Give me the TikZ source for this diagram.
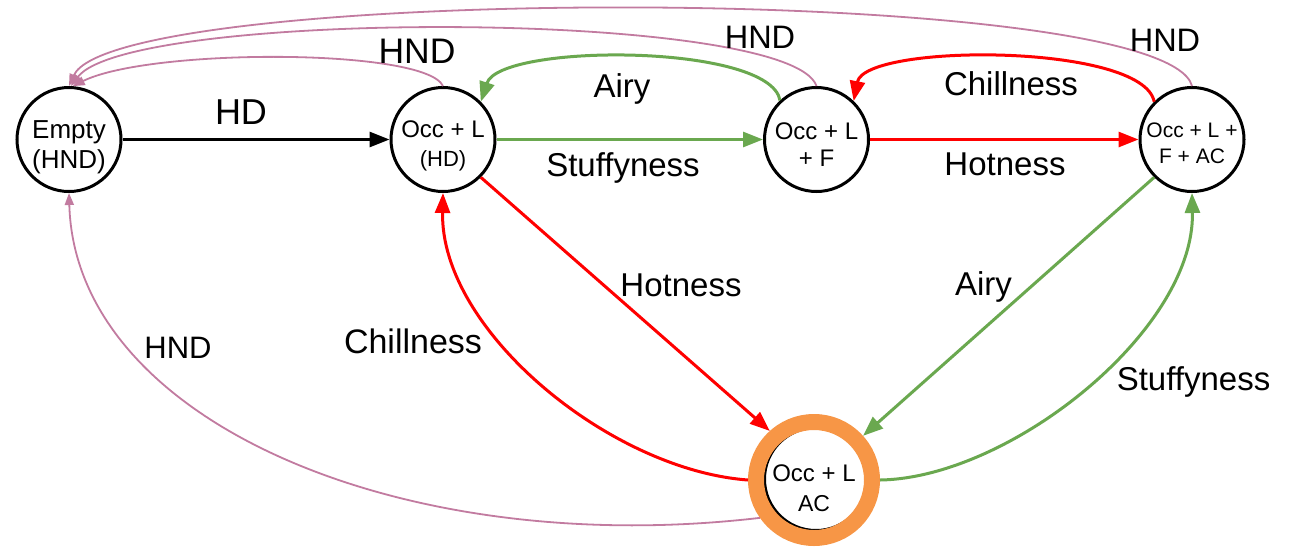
\documentclass[tikz,border=0pt]{standalone}
\usepackage{fontspec}
\setmainfont{Liberation Sans}
\usetikzlibrary{arrows.meta}

\definecolor{grn}{HTML}{6AA84F}
\definecolor{hot}{HTML}{FF0000}
\definecolor{hndc}{HTML}{C27BA0}
\definecolor{ring}{HTML}{F79646}

% two centred lines; the last baseline sits #1 below the node centre
\newcommand{\nodelines}[3]{\smash{\raisebox{-#1}{\begin{tabular}[b]{@{}c@{}}#2\\#3\end{tabular}}}}

\begin{document}
\begin{tikzpicture}[x=1pt,y=-1pt,
  state/.style={circle, draw=black, line width=3pt, fill=white,
                minimum size=104pt, inner sep=0pt},
  flow/.style={line width=3pt, -{Triangle[length=20pt,width=15pt]}},
  hnd/.style={draw=hndc, line width=1.8pt, -{Triangle[length=12pt,width=9pt]}},
  lbl/.style={anchor=base, inner sep=0pt, font=\fontsize{33}{40}\selectfont}]

\useasboundingbox[fill=white] (0,0) rectangle (1299,547);

% states
\node[state, font=\fontsize{26}{30}\selectfont] (empty) at (69,139.5)
  {\nodelines{28.8pt}{Empty}{(HND)}};
\node[state, font=\fontsize{24}{29}\selectfont] (hd) at (443,139.5)
  {\nodelines{27.2pt}{Occ + L}{{\fontsize{22}{29}\selectfont (HD)}}};
\node[state, font=\fontsize{24}{27.4}\selectfont] (f) at (816.5,139.5)
  {\nodelines{27.2pt}{Occ + L}{+ F}};
\node[state, font=\fontsize{21}{25.6}\selectfont] (ac4) at (1192,139.5)
  {\nodelines{23.8pt}{Occ + L +}{F + AC}};

% highlighted state: black circle under a thick orange ring
\node[state, minimum size=103pt] (acin) at (816,479) {};
\node[circle, draw=ring, line width=16pt, minimum size=116pt, inner sep=0pt,
      font=\fontsize{24}{30}\selectfont] (ac) at (814,480)
  {\nodelines{31pt}{Occ + L}{{\fontsize{23}{30}\selectfont AC}}};

% straight transitions
\draw[flow, black] (empty) -- (hd);
\draw[flow, grn] (hd) -- (f);
\draw[flow, hot] (f) -- (ac4);
\draw[flow, hot] (hd.315) -- (ac.132);
\draw[flow, grn] (ac4.225) -- (ac.42);

% curved transitions
\draw[flow, grn] (f.133) .. controls (770,43) and (500,43) .. (hd.45);
\draw[flow, hot] (ac4.135) .. controls (1143,43) and (865,43) .. (f.46);
\draw[flow, hot] (ac.180) .. controls (610,470) and (440,330) .. (hd.south);
\draw[flow, grn] (ac.0) .. controls (1010,478) and (1195,330) .. (ac4.south);

% back to empty
\draw[hnd] (hd.north) .. controls (425,48) and (150,48) .. (empty.86);
\draw[hnd] (f.north) .. controls (790,9) and (130,9) .. (empty.88);
\draw[hnd] (ac4.north) .. controls (1165,-18) and (115,-16) .. (empty.90);
\draw[hnd] (ac.215) .. controls (400,560) and (75,420) .. (empty.south);

% labels
\node[lbl, font=\fontsize{36}{40}\selectfont] (lhd) at (241,124) {HD};
\node[lbl, font=\fontsize{35.5}{40}\selectfont] (lhnda) at (417,63.3) {HND};
\node[lbl, font=\fontsize{32.5}{40}\selectfont] (lhndb) at (760,48.3) {HND};
\node[lbl, font=\fontsize{32.5}{40}\selectfont] (lhndc) at (1165,51.7) {HND};
\node[lbl, font=\fontsize{31}{40}\selectfont] (lhndd) at (178,358) {HND};
\node[lbl] (lairya) at (622,97) {Airy};
\node[lbl] (lstuffa) at (623,176) {Stuffyness};
\node[lbl] (lchilla) at (1011,95) {Chillness};
\node[lbl] (lhota) at (1005,175) {Hotness};
\node[lbl, font=\fontsize{34}{40}\selectfont] (lchillb) at (413,353) {Chillness};
\node[lbl] (lhotb) at (681,296.7) {Hotness};
\node[lbl] (lairyb) at (983.5,295) {Airy};
\node[lbl] (lstuffb) at (1193.5,390) {Stuffyness};

\end{tikzpicture}
\end{document}
